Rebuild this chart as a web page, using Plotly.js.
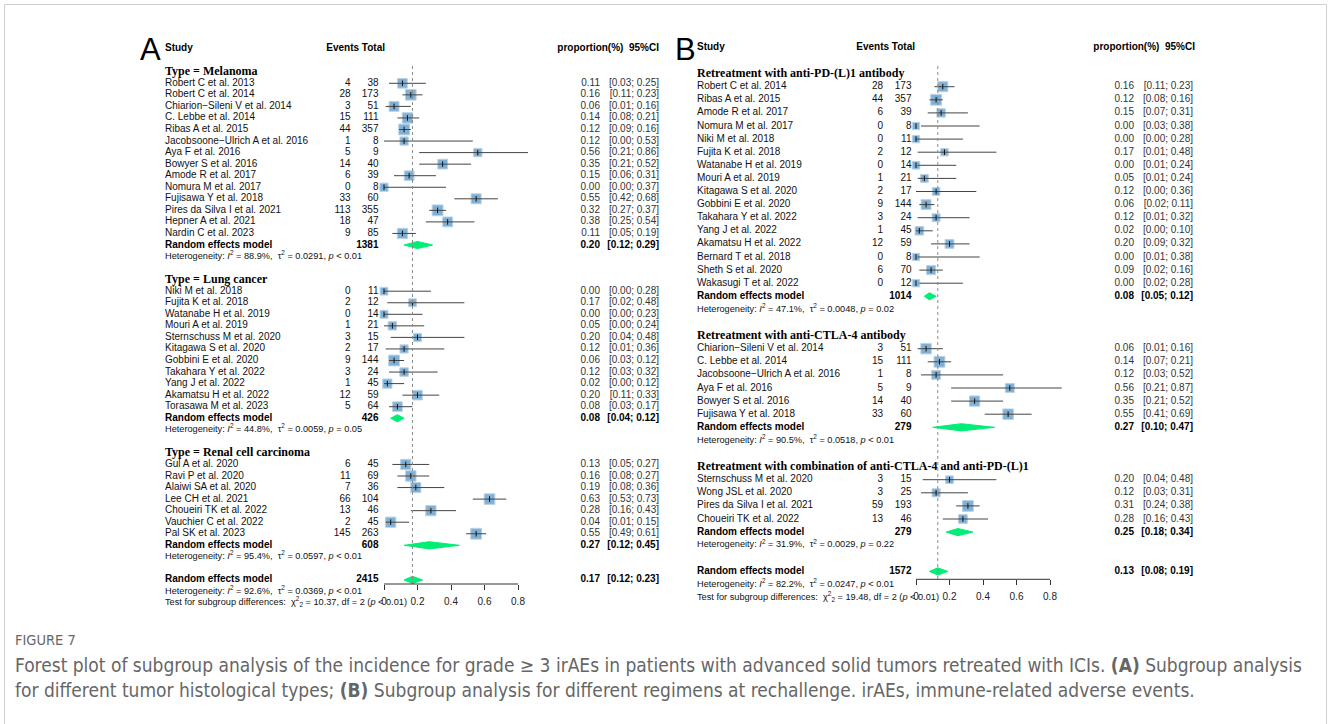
<!DOCTYPE html>
<html><head><meta charset="utf-8">
<script src="https://cdn.plot.ly/plotly-3.0.1.min.js"></script>
<style>html,body{margin:0;padding:0;background:#fff;}#chart{width:1328px;height:724px;}</style>
</head><body><div id="chart"></div>
<script>
// ================= DATA =================
// ---- Panel A : tumour histological types ----
const melStudies = ["Robert C et al. 2013","Robert C et al. 2014","Chiarion\u2212Sileni V et al. 2014","C. Lebbe et al. 2014","Ribas A et al. 2015","Jacobsoone\u2212Ulrich A et al. 2016","Aya F et al. 2016","Bowyer S et al. 2016","Amode R et al. 2017","Nomura M et al. 2017","Fujisawa Y et al. 2018","Pires da Silva I et al. 2021","Hepner A et al. 2021","Nardin C et al. 2023"];
const melEvents = [4,28,3,15,44,1,5,14,6,0,33,113,18,9];
const melTotals = [38,173,51,111,357,8,9,40,39,8,60,355,47,85];
const melProp  = [0.11,0.16,0.06,0.14,0.12,0.12,0.56,0.35,0.15,0.00,0.55,0.32,0.38,0.11];
const melLower = [0.03,0.11,0.01,0.08,0.09,0.00,0.21,0.21,0.06,0.00,0.42,0.27,0.25,0.05];
const melUpper = [0.25,0.23,0.16,0.21,0.16,0.53,0.86,0.52,0.31,0.37,0.68,0.37,0.54,0.19];

const lungStudies = ["Niki M et al. 2018","Fujita K et al. 2018","Watanabe H et al. 2019","Mouri A et al. 2019","Sternschuss M et al. 2020","Kitagawa S et al. 2020","Gobbini E et al. 2020","Takahara Y et al. 2022","Yang J et al. 2022","Akamatsu H et al. 2022","Torasawa M et al. 2023"];
const lungEvents = [0,2,0,1,3,2,9,3,1,12,5];
const lungTotals = [11,12,14,21,15,17,144,24,45,59,64];
const lungProp  = [0.00,0.17,0.00,0.05,0.20,0.12,0.06,0.12,0.02,0.20,0.08];
const lungLower = [0.00,0.02,0.00,0.00,0.04,0.01,0.03,0.03,0.00,0.11,0.03];
const lungUpper = [0.28,0.48,0.23,0.24,0.48,0.36,0.12,0.32,0.12,0.33,0.17];

const rccStudies = ["Gul A et al. 2020","Ravi P et al. 2020","Alaiwi SA et al. 2020","Lee CH et al. 2021","Choueiri TK et al. 2022","Vauchier C et al. 2022","Pal SK et al. 2023"];
const rccEvents = [6,11,7,66,13,2,145];
const rccTotals = [45,69,36,104,46,45,263];
const rccProp  = [0.13,0.16,0.19,0.63,0.28,0.04,0.55];
const rccLower = [0.05,0.08,0.08,0.53,0.16,0.01,0.49];
const rccUpper = [0.27,0.27,0.36,0.73,0.43,0.15,0.61];

const groupLabelsA = ["Type = Melanoma","Type = Lung cancer","Type = Renal cell carcinoma"];
const sumTotalsA = [1381,426,608];
const sumPropA  = [0.20,0.08,0.27];
const sumLowerA = [0.12,0.04,0.12];
const sumUpperA = [0.29,0.12,0.45];
const hetI2A  = [88.9,44.8,95.4];
const hetTau2A = [0.0291,0.0059,0.0597];
const hetPA   = ["< 0.01","= 0.05","< 0.01"];
const overallA = {total:2415, prop:0.17, lower:0.12, upper:0.23, i2:92.6, tau2:0.0369, p:"< 0.01", chi2:10.37, df:2, pSub:"< 0.01"};

// ---- Panel B : regimens at rechallenge ----
const pdStudies = ["Robert C et al. 2014","Ribas A et al. 2015","Amode R et al. 2017","Nomura M et al. 2017","Niki M et al. 2018","Fujita K et al. 2018","Watanabe H et al. 2019","Mouri A et al. 2019","Kitagawa S et al. 2020","Gobbini E et al. 2020","Takahara Y et al. 2022","Yang J et al. 2022","Akamatsu H et al. 2022","Bernard T et al. 2018","Sheth S et al. 2020","Wakasugi T et al. 2022"];
const pdEvents = [28,44,6,0,0,2,0,1,2,9,3,1,12,0,6,0];
const pdTotals = [173,357,39,8,11,12,14,21,17,144,24,45,59,8,70,12];
const pdProp  = [0.16,0.12,0.15,0.00,0.00,0.17,0.00,0.05,0.12,0.06,0.12,0.02,0.20,0.00,0.09,0.00];
const pdLower = [0.11,0.08,0.07,0.03,0.00,0.01,0.01,0.01,0.00,0.02,0.01,0.00,0.09,0.01,0.02,0.02];
const pdUpper = [0.23,0.16,0.31,0.38,0.28,0.48,0.24,0.24,0.36,0.11,0.32,0.10,0.32,0.38,0.16,0.28];

const ctlaStudies = ["Chiarion\u2212Sileni V et al. 2014","C. Lebbe et al. 2014","Jacobsoone\u2212Ulrich A et al. 2016","Aya F et al. 2016","Bowyer S et al. 2016","Fujisawa Y et al. 2018"];
const ctlaEvents = [3,15,1,5,14,33];
const ctlaTotals = [51,111,8,9,40,60];
const ctlaProp  = [0.06,0.14,0.12,0.56,0.35,0.55];
const ctlaLower = [0.01,0.07,0.03,0.21,0.21,0.41];
const ctlaUpper = [0.16,0.21,0.52,0.87,0.52,0.69];

const comboStudies = ["Sternschuss M et al. 2020","Wong JSL et al. 2020","Pires da Silva I et al. 2021","Choueiri TK et al. 2022"];
const comboEvents = [3,3,59,13];
const comboTotals = [15,25,193,46];
const comboProp  = [0.20,0.12,0.31,0.28];
const comboLower = [0.04,0.03,0.24,0.16];
const comboUpper = [0.48,0.31,0.38,0.43];

const groupLabelsB = ["Retreatment with anti-PD-(L)1 antibody","Retreatment with anti-CTLA-4 antibody","Retreatment with combination of anti-CTLA-4 and anti-PD-(L)1"];
const sumTotalsB = [1014,279,279];
const sumPropB  = [0.08,0.27,0.25];
const sumLowerB = [0.05,0.10,0.18];
const sumUpperB = [0.12,0.47,0.34];
const hetI2B  = [47.1,90.5,31.9];
const hetTau2B = [0.0048,0.0518,0.0029];
const hetPB   = ["= 0.02","< 0.01","= 0.22"];
const overallB = {total:1572, prop:0.13, lower:0.08, upper:0.19, i2:82.2, tau2:0.0247, p:"< 0.01", chi2:19.48, df:2, pSub:"< 0.01"};

const tickVals = [0,0.2,0.4,0.6,0.8];
const tickLabels = ["0","0.2","0.4","0.6","0.8"];

// ================= BUILD =================
const W = 1328, H = 724;
const SANS = "Liberation Sans, Arial, sans-serif";
const SERIF = "Liberation Serif, Times New Roman, serif";
const pY = v => 1 - v / H;

const groupsA = [
  {label:groupLabelsA[0], s:melStudies, e:melEvents, n:melTotals, p:melProp, lo:melLower, hi:melUpper},
  {label:groupLabelsA[1], s:lungStudies, e:lungEvents, n:lungTotals, p:lungProp, lo:lungLower, hi:lungUpper},
  {label:groupLabelsA[2], s:rccStudies, e:rccEvents, n:rccTotals, p:rccProp, lo:rccLower, hi:rccUpper}
].map((g,i)=>Object.assign(g,{tot:sumTotalsA[i], sp:sumPropA[i], slo:sumLowerA[i], shi:sumUpperA[i], i2:hetI2A[i], tau2:hetTau2A[i], hp:hetPA[i]}));
const groupsB = [
  {label:groupLabelsB[0], s:pdStudies, e:pdEvents, n:pdTotals, p:pdProp, lo:pdLower, hi:pdUpper},
  {label:groupLabelsB[1], s:ctlaStudies, e:ctlaEvents, n:ctlaTotals, p:ctlaProp, lo:ctlaLower, hi:ctlaUpper},
  {label:groupLabelsB[2], s:comboStudies, e:comboEvents, n:comboTotals, p:comboProp, lo:comboLower, hi:comboUpper}
].map((g,i)=>Object.assign(g,{tot:sumTotalsB[i], sp:sumPropB[i], slo:sumLowerB[i], shi:sumUpperB[i], i2:hetI2B[i], tau2:hetTau2B[i], hp:hetPB[i]}));

const f2 = v => v.toFixed(2);
const ciTxt = (a,b) => "[" + f2(a) + "; " + f2(b) + "]";
const hetTxt = (i2,t2,p) => "Heterogeneity: <i>I</i><sup>2</sup> = " + i2.toFixed(1) + "%,  \u03c4<sup>2</sup> = " + t2.toFixed(4) + ", <i>p</i> " + p.replace("<","&lt;");

const traces = [], shapes = [], annotations = [], layout = {};
const HET = 9.2, NUM = 10;

function panel(groups, overall, g) {
  const textBuckets = {};
  function addText(x, y, t, align, size, family, color) {
    const key = align + "|" + size + "|" + family + "|" + color;
    if (!textBuckets[key]) textBuckets[key] = {x:[], y:[], t:[], align, size, family, color};
    const b = textBuckets[key]; b.x.push(x); b.y.push(y); b.t.push(t);
  }
  const ciL = {x:[], y:[]}, sq = {x:[], y:[], size:[]}, tk = {x:[], y:[]}, dia = {x:[], y:[]};
  const h = 3.6 / g.dy;
  function diamond(k, p, lo, hi) {
    dia.x.push(lo, p, hi, p, lo, null); dia.y.push(k, k - h, k, k + h, k, null);
  }
  addText(g.nameX, -3, "<b>Study</b>", "left", 10, SANS, "#000");
  addText(g.hdrEvR, -3, "<b>Events Total</b>", "right", 10, SANS, "#000");
  addText(g.hdrPropR, -3, "<b>proportion(%)  95%CI</b>", "right", 10, SANS, "#000");
  let k = -1;
  groups.forEach(grp => {
    addText(g.nameX, k, "<b>" + grp.label + "</b>", "left", 12, SERIF, "#000");
    const w = grp.n.map(n => 1 / (1 / (n + 0.5) + grp.tau2));
    const wmax = Math.max(...w);
    grp.s.forEach((name, i) => {
      k += 1;
      addText(g.nameX, k, name, "left", 10, SANS, "#111");
      addText(g.evR, k, String(grp.e[i]), "right", 10, SANS, "#111");
      addText(g.totR, k, String(grp.n[i]), "right", 10, SANS, "#111");
      addText(g.estR, k, f2(grp.p[i]), "right", NUM, SANS, "#333");
      addText(g.ciR, k, ciTxt(grp.lo[i], grp.hi[i]), "right", NUM, SANS, "#333");
      sq.x.push(grp.p[i]); sq.y.push(k); sq.size.push(6 + 4.8 * Math.sqrt(w[i] / wmax));
      tk.x.push(grp.p[i]); tk.y.push(k);
      if (grp.hi[i] > grp.lo[i]) { ciL.x.push(grp.lo[i], grp.hi[i], null); ciL.y.push(k, k, null); }
    });
    k += 1;
    addText(g.nameX, k, "<b>Random effects model</b>", "left", 10, SANS, "#000");
    addText(g.totR, k, "<b>" + grp.tot + "</b>", "right", 10, SANS, "#000");
    addText(g.estR, k, "<b>" + f2(grp.sp) + "</b>", "right", NUM, SANS, "#000");
    addText(g.ciR, k, "<b>" + ciTxt(grp.slo, grp.shi) + "</b>", "right", NUM, SANS, "#000");
    diamond(k, grp.sp, grp.slo, grp.shi);
    k += 1;
    addText(g.nameX, k, hetTxt(grp.i2, grp.tau2, grp.hp), "left", HET, SANS, "#111");
    k += 2;
  });
  addText(g.nameX, k, "<b>Random effects model</b>", "left", 10, SANS, "#000");
  addText(g.totR, k, "<b>" + overall.total + "</b>", "right", 10, SANS, "#000");
  addText(g.estR, k, "<b>" + f2(overall.prop) + "</b>", "right", NUM, SANS, "#000");
  addText(g.ciR, k, "<b>" + ciTxt(overall.lower, overall.upper) + "</b>", "right", NUM, SANS, "#000");
  diamond(k, overall.prop, overall.lower, overall.upper);
  addText(g.nameX, k + 1, hetTxt(overall.i2, overall.tau2, overall.p), "left", HET, SANS, "#111");
  addText(g.nameX, k + 2, "Test for subgroup differences:  \u03c7<sup>2</sup><sub>" + overall.df + "</sub> = " + overall.chi2.toFixed(2) + ", df = " + overall.df + " (<i>p</i> " + overall.pSub.replace("<","&lt;") + ")", "left", HET, SANS, "#111");

  // axes: forest subplot (data scale) and a full-height text subplot sharing the row scale
  const yTop = -g.y0 / g.dy, yBot = (g.axisPx - g.y0) / g.dy, yFull = (H - g.y0) / g.dy;
  layout[g.yName] = {domain:[1 - g.axisPx / H, 1], range:[yBot, yTop], visible:false, fixedrange:true, anchor:g.xa};
  layout[g.yTextName] = {domain:[0, 1], range:[yFull, yTop], visible:false, fixedrange:true, anchor:"x3"};
  layout[g.xName] = {domain:[g.x0px / W, g.rightPx / W], range:[0, (g.rightPx - g.x0px) / g.scale], anchor:g.ya,
    showgrid:false, zeroline:false, showline:false, ticks:"outside", ticklen:5, tickwidth:1, tickcolor:"#333",
    tickvals:tickVals, ticktext:tickLabels, tickfont:{family:SANS, size:10, color:"#222"}, ticklabelstandoff:3, fixedrange:true};

  traces.push({type:"scatter", mode:"markers", x:sq.x, y:sq.y, xaxis:g.xa, yaxis:g.ya, cliponaxis:false, hoverinfo:"skip",
    marker:{symbol:"square", size:sq.size, color:"#4a8fc6", line:{color:"#9fc0dc", width:1}}});
  traces.push({type:"scatter", mode:"lines", x:ciL.x, y:ciL.y, xaxis:g.xa, yaxis:g.ya, hoverinfo:"skip", connectgaps:false,
    line:{color:"#444", width:1}});
  traces.push({type:"scatter", mode:"markers", x:tk.x, y:tk.y, xaxis:g.xa, yaxis:g.ya, cliponaxis:false, hoverinfo:"skip",
    marker:{symbol:"line-ns", size:4, line:{color:"#111", width:1}}});
  traces.push({type:"scatter", mode:"lines", x:dia.x, y:dia.y, xaxis:g.xa, yaxis:g.ya, fill:"toself", fillcolor:"#00ee76",
    hoverinfo:"skip", connectgaps:false, line:{color:"#00ee76", width:1}});

  Object.values(textBuckets).forEach(b => {
    traces.push({type:"scatter", mode:"text", x:b.x, y:b.y, text:b.t, xaxis:"x3", yaxis:g.yt, cliponaxis:false, hoverinfo:"skip",
      textposition: b.align === "left" ? "middle right" : "middle left",
      textfont:{family:b.family, size:b.size, color:b.color}});
  });

  shapes.push({type:"line", xref:g.xa, yref:"paper", x0:overall.prop, x1:overall.prop, y0:pY(g.dotTopPx), y1:pY(g.axisPx),
    line:{color:"#8a8a8a", width:1, dash:"dot"}});
  shapes.push({type:"line", xref:g.xa, yref:"paper", x0:tickVals[0], x1:tickVals[tickVals.length - 1], y0:pY(g.axisPx), y1:pY(g.axisPx),
    line:{color:"#333", width:1}});
  annotations.push({xref:"paper", yref:"paper", x:g.letterX / W, y:pY(50), xanchor:"left", yanchor:"middle", showarrow:false,
    text:g.letter, font:{family:SANS, size:31, color:"#000"}});
}

panel(groupsA, overallA, {xa:"x", ya:"y", yt:"y3", xName:"xaxis", yName:"yaxis", yTextName:"yaxis3", y0:83.3, dy:11.55, axisPx:584, x0px:384, scale:167.5, rightPx:540,
  nameX:165, evR:350.5, totR:378.5, estR:600, ciR:659, hdrEvR:385, hdrPropR:659, dotTopPx:66, letter:"A", letterX:138});
panel(groupsB, overallB, {xa:"x2", ya:"y2", yt:"y4", xName:"xaxis2", yName:"yaxis2", yTextName:"yaxis4", y0:86.7, dy:13.1, axisPx:579.3, x0px:916, scale:167.5, rightPx:1078,
  nameX:697, evR:883, totR:911.5, estR:1134, ciR:1193, hdrEvR:915, hdrPropR:1195, dotTopPx:66, letter:"B", letterX:673});

layout.xaxis3 = {domain:[0,1], range:[0,W], visible:false, anchor:"y3", fixedrange:true};

// frame + caption
shapes.push({type:"rect", xref:"paper", yref:"paper", x0:4.5 / W, x1:1326.5 / W, y0:pY(4.5), y1:pY(740), line:{color:"#cfcfcf", width:1}, fillcolor:"rgba(0,0,0,0)"});
const CAP = "Liberation Sans Narrow, DejaVu Sans Condensed, Arial Narrow, sans-serif";
annotations.push({xref:"paper", yref:"paper", x:13 / W, y:pY(640), xanchor:"left", yanchor:"middle", showarrow:false,
  text:"FIGURE 7", font:{family:CAP, size:14.5, color:"#666"}});
annotations.push({xref:"paper", yref:"paper", x:13 / W, y:pY(665), xanchor:"left", yanchor:"middle", showarrow:false,
  text:"Forest plot of subgroup analysis of the incidence for grade \u2265 3 irAEs in patients with advanced solid tumors retreated with ICIs. <b>(A)</b> Subgroup analysis",
  font:{family:CAP, size:19, color:"#666"}});
annotations.push({xref:"paper", yref:"paper", x:13 / W, y:pY(690), xanchor:"left", yanchor:"middle", showarrow:false,
  text:"for different tumor histological types; <b>(B)</b> Subgroup analysis for different regimens at rechallenge. irAEs, immune-related adverse events.",
  font:{family:CAP, size:19, color:"#666"}});

Object.assign(layout, {width:W, height:H, margin:{l:0, r:0, t:0, b:0}, paper_bgcolor:"#fff", plot_bgcolor:"rgba(0,0,0,0)",
  showlegend:false, shapes, annotations, font:{family:SANS}});

Plotly.newPlot("chart", traces, layout, {displayModeBar:false, staticPlot:true});
</script></body></html>
